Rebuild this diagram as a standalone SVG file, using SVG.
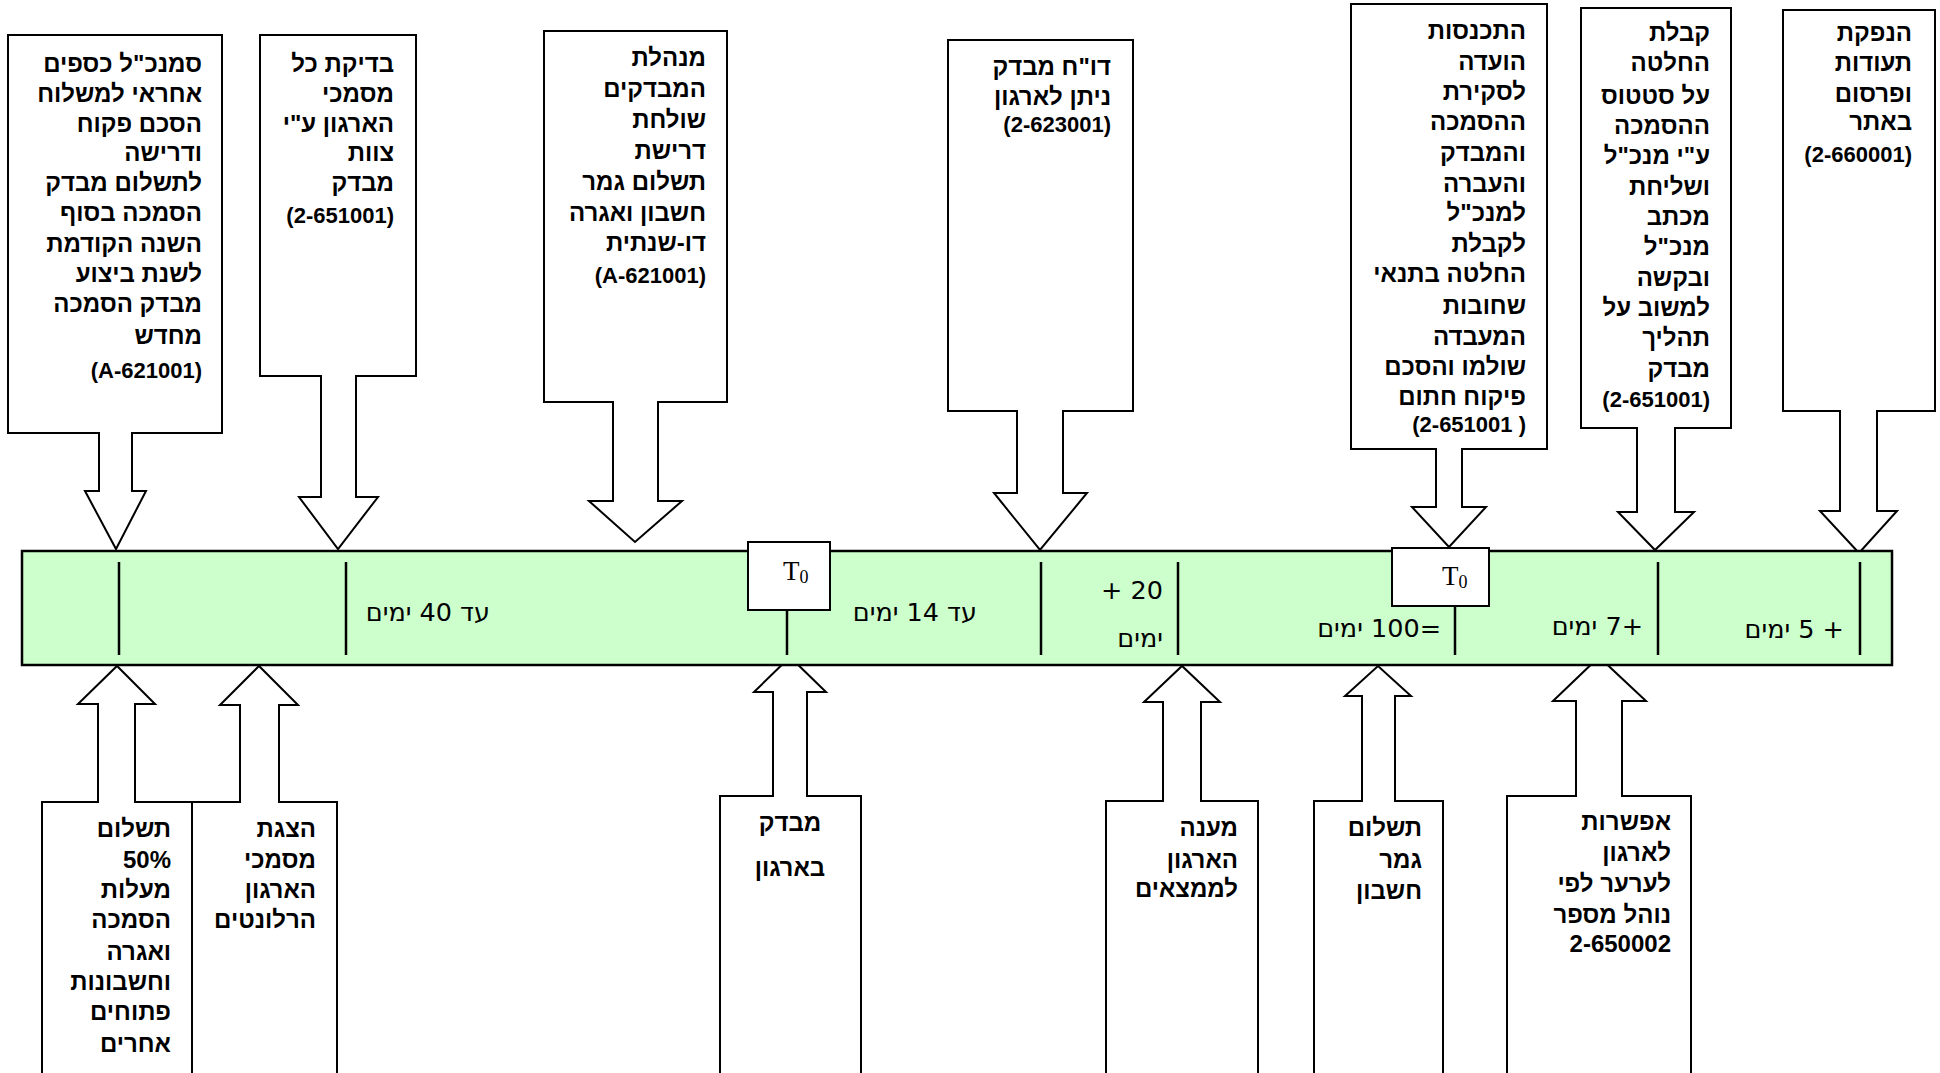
<svg xmlns="http://www.w3.org/2000/svg" width="1940" height="1073" viewBox="0 0 1940 1073">
<style>
.box{fill:#fff;stroke:#000;stroke-width:2;stroke-linejoin:miter}
.arr{fill:#fff;stroke:#000;stroke-width:2;stroke-linejoin:miter}
.bar{fill:#ccffcc;stroke:#000;stroke-width:2.5}
.tick{stroke:#000;stroke-width:2.5}
.t{font-family:"Liberation Sans",Arial,sans-serif;font-weight:bold;font-size:24px;text-anchor:end;fill:#000}
.p{font-family:"Liberation Sans",Arial,sans-serif;font-weight:bold;font-size:22px;text-anchor:end;fill:#000}
.c{text-anchor:middle}
.d{font-family:"DejaVu Sans","Liberation Sans",sans-serif;font-size:25.5px;text-anchor:end;fill:#000}
.tz{font-family:"Liberation Serif","Times New Roman",serif;font-size:27px;fill:#000}
.tzs{font-size:18px}
</style>

<!-- top nodes -->
<g id="nodeA">
<path class="box" d="M8 35H222V433H8Z"/>
<text class="t" x="202" y="72">סמנכ"ל כספים</text>
<text class="t" x="202" y="102">אחראי למשלוח</text>
<text class="t" x="202" y="132">הסכם פקוח</text>
<text class="t" x="202" y="161">ודרישה</text>
<text class="t" x="202" y="191">לתשלום מבדק</text>
<text class="t" x="202" y="221">הסמכה בסוף</text>
<text class="t" x="202" y="252">השנה הקודמת</text>
<text class="t" x="202" y="282">לשנת ביצוע</text>
<text class="t" x="202" y="312">מבדק הסמכה</text>
<text class="t" x="202" y="344">מחדש</text>
<text class="p" x="202" y="378">(A-621001)</text>
</g>
<g id="nodeB">
<path class="box" d="M260 35H416V376H260Z"/>
<text class="t" x="394" y="72">בדיקת כל</text>
<text class="t" x="394" y="102">מסמכי</text>
<text class="t" x="394" y="132">הארגון ע"י</text>
<text class="t" x="394" y="161">צוות</text>
<text class="t" x="394" y="191">מבדק</text>
<text class="p" x="394" y="223">(2-651001)</text>
</g>
<g id="nodeC">
<path class="box" d="M544 31H727V402H544Z"/>
<text class="t" x="706" y="66">מנהלת</text>
<text class="t" x="706" y="97">המבדקים</text>
<text class="t" x="706" y="128">שולחת</text>
<text class="t" x="706" y="159">דרישת</text>
<text class="t" x="706" y="190">תשלום גמר</text>
<text class="t" x="706" y="221">חשבון ואגרה</text>
<text class="t" x="706" y="251">דו-שנתית</text>
<text class="p" x="706" y="283">(A-621001)</text>
</g>
<g id="nodeD">
<path class="box" d="M948 40H1133V411H948Z"/>
<text class="t" x="1111" y="75">דו"ח מבדק</text>
<text class="t" x="1111" y="105">ניתן לארגון</text>
<text class="p" x="1111" y="132">(2-623001)</text>
</g>
<g id="nodeE">
<path class="box" d="M1351 4H1547V449H1351Z"/>
<text class="t" x="1526" y="39">התכנסות</text>
<text class="t" x="1526" y="70">הועדה</text>
<text class="t" x="1526" y="100">לסקירת</text>
<text class="t" x="1526" y="130">ההסמכה</text>
<text class="t" x="1526" y="161">והמבדק</text>
<text class="t" x="1526" y="192">והעברה</text>
<text class="t" x="1526" y="221">למנכ"ל</text>
<text class="t" x="1526" y="252">לקבלת</text>
<text class="t" x="1526" y="282">החלטה בתנאי</text>
<text class="t" x="1526" y="314">שחובות</text>
<text class="t" x="1526" y="345">המעבדה</text>
<text class="t" x="1526" y="375">שולמו והסכם</text>
<text class="t" x="1526" y="405">פיקוח חתום</text>
<text class="p" x="1526" y="432">(2-651001 )</text>
</g>
<g id="nodeF">
<path class="box" d="M1581 8H1731V428H1581Z"/>
<text class="t" x="1710" y="41">קבלת</text>
<text class="t" x="1710" y="71">החלטה</text>
<text class="t" x="1710" y="104">על סטטוס</text>
<text class="t" x="1710" y="134">ההסמכה</text>
<text class="t" x="1710" y="164">ע"י מנכ"ל</text>
<text class="t" x="1710" y="195">ושליחת</text>
<text class="t" x="1710" y="225">מכתב</text>
<text class="t" x="1710" y="255">מנכ"ל</text>
<text class="t" x="1710" y="286">ובקשה</text>
<text class="t" x="1710" y="316">למשוב על</text>
<text class="t" x="1710" y="346">תהליך</text>
<text class="t" x="1710" y="377">מבדק</text>
<text class="p" x="1710" y="407">(2-651001)</text>
</g>
<g id="nodeG">
<path class="box" d="M1783 10H1935V411H1783Z"/>
<text class="t" x="1912" y="41">הנפקת</text>
<text class="t" x="1912" y="71">תעודות</text>
<text class="t" x="1912" y="102">ופרסום</text>
<text class="t" x="1912" y="130">באתר</text>
<text class="p" x="1912" y="162">(2-660001)</text>
</g>

<!-- bottom nodes -->
<g id="nodeH2">
<path class="box" d="M181 802H337V1080H181Z"/>
<text class="t" x="316" y="837">הצגת</text>
<text class="t" x="316" y="868">מסמכי</text>
<text class="t" x="316" y="898">הארגון</text>
<text class="t" x="316" y="928">הרלונטים</text>
</g>
<g id="nodeH1">
<path class="box" d="M42 802H192V1080H42Z"/>
<text class="t" x="171" y="837">תשלום</text>
<text class="t" x="171" y="868">50%</text>
<text class="t" x="171" y="898">מעלות</text>
<text class="t" x="171" y="928">הסמכה</text>
<text class="t" x="171" y="960">ואגרה</text>
<text class="t" x="171" y="990">וחשבונות</text>
<text class="t" x="171" y="1020">פתוחים</text>
<text class="t" x="171" y="1052">אחרים</text>
</g>
<g id="nodeI">
<path class="box" d="M720 796H861V1080H720Z"/>
<text class="t c" x="790" y="831">מבדק</text>
<text class="t c" x="790" y="876">בארגון</text>
</g>
<g id="nodeJ">
<path class="box" d="M1106 801H1258V1080H1106Z"/>
<text class="t" x="1238" y="836">מענה</text>
<text class="t" x="1238" y="868">הארגון</text>
<text class="t" x="1238" y="897">לממצאים</text>
</g>
<g id="nodeK">
<path class="box" d="M1314 801H1443V1080H1314Z"/>
<text class="t" x="1422" y="836">תשלום</text>
<text class="t" x="1422" y="868">גמר</text>
<text class="t" x="1422" y="899">חשבון</text>
</g>
<g id="nodeL">
<path class="box" d="M1507 796H1691V1080H1507Z"/>
<text class="t" x="1671" y="830">אפשרות</text>
<text class="t" x="1671" y="861">לארגון</text>
<text class="t" x="1671" y="892">לערער לפי</text>
<text class="t" x="1671" y="923">נוהל מספר</text>
<text class="t" x="1671" y="952">2-650002</text>
</g>

<!-- connectors: block arrows -->
<g id="connectors">
<path class="arr" d="M99 432V491H85L116 549L146 491H132V432"/>
<path class="arr" d="M321 375V497H299L338 549L378 497H356V375"/>
<path class="arr" d="M613 401V501H589L635 542L682 501H658V401"/>
<path class="arr" d="M1017 410V493H994L1040 550L1087 493H1063V410"/>
<path class="arr" d="M1436 448V507H1412L1449 547L1486 507H1462V448"/>
<path class="arr" d="M1637 427V512H1618L1655 550L1694 512H1675V427"/>
<path class="arr" d="M1840 410V511H1820L1859 553L1897 511H1877V410"/>
<path class="arr" d="M98 803V704H78L117 666L155 704H135V803"/>
<path class="arr" d="M240 803V705H220L259 666L298 705H279V803"/>
<path class="arr" d="M773 797V692H754L790 657L826 692H807V797"/>
<path class="arr" d="M1163 802V702H1144L1182 666L1220 702H1201V802"/>
<path class="arr" d="M1362 802V696H1345L1378 666L1411 696H1395V802"/>
<path class="arr" d="M1576 797V701H1553L1599 657L1646 701H1622V797"/>
</g>

<!-- timeline bar -->
<g id="timeline">
<rect class="bar" x="22" y="551" width="1870" height="114"/>
<line class="tick" x1="119" y1="562" x2="119" y2="655"/>
<line class="tick" x1="346" y1="562" x2="346" y2="655"/>
<line class="tick" x1="787" y1="610" x2="787" y2="655"/>
<line class="tick" x1="1041" y1="562" x2="1041" y2="655"/>
<line class="tick" x1="1178" y1="562" x2="1178" y2="655"/>
<line class="tick" x1="1455" y1="606" x2="1455" y2="655"/>
<line class="tick" x1="1658" y1="562" x2="1658" y2="655"/>
<line class="tick" x1="1860" y1="562" x2="1860" y2="655"/>
<text class="d" x="490" y="621">&#x200F;עד 40 ימים</text>
<text class="d" x="977" y="621">&#x200F;עד 14 ימים</text>
<text class="d" x="1163" y="599">+ 20</text>
<text class="d" x="1163" y="647">ימים</text>
<text class="d" x="1441" y="637">&#x200F;=100 ימים</text>
<text class="d" x="1643" y="635">&#x200F;+7 ימים</text>
<text class="d" x="1844" y="638">&#x200F;+ 5 ימים</text>
</g>
<g id="t0a">
<rect class="box" x="748" y="542" width="82" height="68"/>
<text class="tz" x="783" y="580">T<tspan class="tzs" dy="3">0</tspan></text>
</g>
<g id="t0b">
<rect class="box" x="1392" y="548" width="97" height="58"/>
<text class="tz" x="1442" y="585">T<tspan class="tzs" dy="3">0</tspan></text>
</g>
</svg>
